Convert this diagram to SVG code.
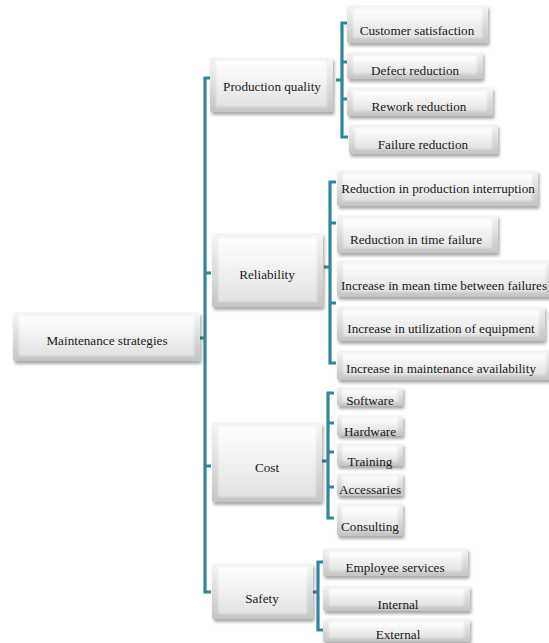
<svg xmlns="http://www.w3.org/2000/svg" width="549" height="643" viewBox="0 0 549 643">
<defs>
<linearGradient id="gOuter" x1="0" y1="0" x2="0" y2="1">
<stop offset="0" stop-color="#f6f6f6"/>
<stop offset="1" stop-color="#c4c4c4"/>
</linearGradient>
<linearGradient id="gInner" x1="0" y1="0" x2="0" y2="1">
<stop offset="0" stop-color="#ffffff"/>
<stop offset="1" stop-color="#e2e2e2"/>
</linearGradient>
<filter id="sh" x="-10%" y="-20%" width="130%" height="160%">
<feDropShadow dx="1.5" dy="3" stdDeviation="1.8" flood-color="#000" flood-opacity="0.33"/>
</filter>
<filter id="bl" x="-5%" y="-10%" width="110%" height="120%">
<feGaussianBlur stdDeviation="1.2"/>
</filter>
</defs>
<style>
.o{fill:url(#gOuter);filter:url(#sh)}
.i{fill:url(#gInner);filter:url(#bl)}
.t{font-family:"Liberation Serif","Times New Roman",serif;font-size:13.2px;fill:#1a1a1a;text-anchor:middle;dominant-baseline:central}
.b{fill:none;stroke:#31869c;stroke-width:3.2;stroke-linecap:butt;stroke-linejoin:miter}
</style>
<rect width="549" height="643" fill="#ffffff"/>

<g id="connectors">
<path class="b" d="M211,78 H205 V592 H211 M205,273 H211 M205,466 H211 M205,338 H199"/>
<path class="b" d="M348,23 H342 V137 H348 M342,62 H348 M342,99 H348 M342,80 H336"/>
<path class="b" d="M336,182 H330 V363 H336 M330,223 H336 M330,303 H336 M330,267 H324"/>
<path class="b" d="M334,393 H328 V518 H334 M328,423 H334 M328,452 H334 M328,487 H334 M328,461 H322"/>
<path class="b" d="M324,562 H318 V630 H324 M318,592 H312"/>
</g>

<g id="n-maintenance"><rect class="o" x="13" y="312" width="187" height="49" rx="2"/><rect class="i" x="19" y="316" width="175" height="40"/><text class="t" x="107" y="340">Maintenance  strategies</text></g>

<g id="n-production"><rect class="o" x="210" y="57" width="123" height="55" rx="2"/><rect class="i" x="216" y="61" width="111" height="46"/><text class="t" x="272" y="86">Production quality</text></g>
<g id="n-reliability"><rect class="o" x="212" y="233" width="111" height="74" rx="2"/><rect class="i" x="218" y="238" width="99" height="64"/><text class="t" x="267" y="274">Reliability</text></g>
<g id="n-cost"><rect class="o" x="212" y="422" width="110" height="80" rx="2"/><rect class="i" x="218" y="427" width="98" height="70"/><text class="t" x="267" y="467">Cost</text></g>
<g id="n-safety"><rect class="o" x="212" y="563" width="101" height="56" rx="2"/><rect class="i" x="218" y="567" width="89" height="47"/><text class="t" x="262" y="598">Safety</text></g>

<g id="n-customer"><rect class="o" x="347" y="5" width="141" height="38" rx="2"/><rect class="i" x="353" y="9" width="129" height="29"/><text class="t" x="417" y="30">Customer  satisfaction</text></g>
<g id="n-defect"><rect class="o" x="347" y="52" width="136" height="27" rx="2"/><rect class="i" x="353" y="56" width="124" height="18"/><text class="t" x="415" y="70">Defect reduction</text></g>
<g id="n-rework"><rect class="o" x="347" y="87" width="146" height="29" rx="2"/><rect class="i" x="353" y="91" width="134" height="20"/><text class="t" x="419" y="106">Rework  reduction</text></g>
<g id="n-failure"><rect class="o" x="349" y="124" width="149" height="30" rx="2"/><rect class="i" x="355" y="128" width="137" height="21"/><text class="t" x="423" y="144">Failure reduction</text></g>

<g id="n-rpi"><rect class="o" x="337" y="170" width="201" height="36" rx="2"/><rect class="i" x="343" y="174" width="189" height="27"/><text class="t" x="438" y="188">Reduction  in production  interruption</text></g>
<g id="n-rtf"><rect class="o" x="337" y="215" width="161" height="38" rx="2"/><rect class="i" x="343" y="219" width="149" height="29"/><text class="t" x="416" y="239">Reduction  in time failure</text></g>
<g id="n-imtbf"><rect class="o" x="337" y="260" width="215" height="37" rx="2"/><rect class="i" x="343" y="264" width="203" height="28"/><text class="t" x="444" y="285">Increase  in mean time  between  failures</text></g>
<g id="n-iue"><rect class="o" x="337" y="306" width="208" height="35" rx="2"/><rect class="i" x="343" y="310" width="196" height="26"/><text class="t" x="441" y="328">Increase  in utilization  of equipment</text></g>
<g id="n-ima"><rect class="o" x="337" y="350" width="215" height="30" rx="2"/><rect class="i" x="343" y="354" width="203" height="21"/><text class="t" x="441" y="368">Increase  in maintenance  availability</text></g>

<g id="n-software"><rect class="o" x="337" y="387" width="66" height="19" rx="2"/><rect class="i" x="342" y="390" width="56" height="12"/><text class="t" x="370" y="400">Software</text></g>
<g id="n-hardware"><rect class="o" x="337" y="415" width="66" height="21" rx="2"/><rect class="i" x="342" y="418" width="56" height="14"/><text class="t" x="370" y="431">Hardware</text></g>
<g id="n-training"><rect class="o" x="337" y="443" width="66" height="23" rx="2"/><rect class="i" x="342" y="446" width="56" height="16"/><text class="t" x="370" y="461">Training</text></g>
<g id="n-accessaries"><rect class="o" x="337" y="473" width="66" height="23" rx="2"/><rect class="i" x="342" y="476" width="56" height="16"/><text class="t" x="370" y="489">Accessaries</text></g>
<g id="n-consulting"><rect class="o" x="337" y="503" width="66" height="33" rx="2"/><rect class="i" x="342" y="507" width="56" height="24"/><text class="t" x="370" y="526">Consulting</text></g>

<g id="n-employee"><rect class="o" x="323" y="548" width="145" height="28" rx="2"/><rect class="i" x="329" y="552" width="133" height="19"/><text class="t" x="395" y="567">Employee  services</text></g>
<g id="n-internal"><rect class="o" x="323" y="585" width="147" height="26" rx="2"/><rect class="i" x="329" y="589" width="135" height="17"/><text class="t" x="398" y="604">Internal</text></g>
<g id="n-external"><rect class="o" x="323" y="618" width="147" height="24" rx="2"/><rect class="i" x="329" y="622" width="135" height="16"/><text class="t" x="398" y="634">External</text></g>
</svg>
